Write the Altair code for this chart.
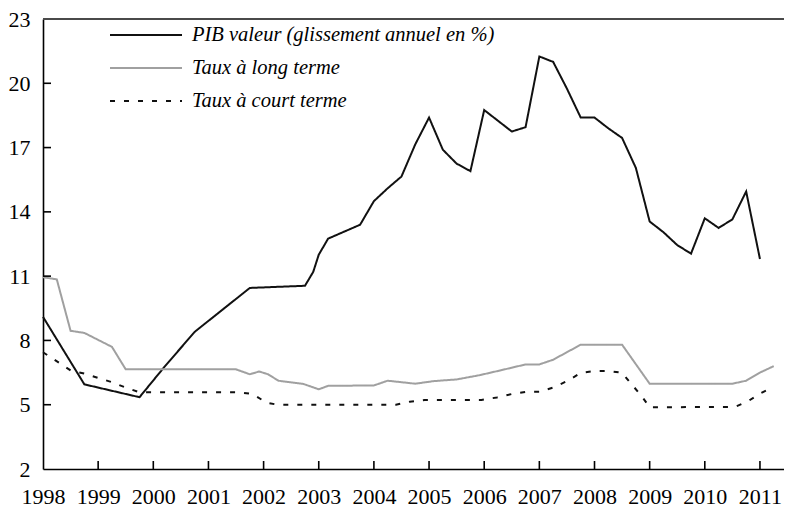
import altair as alt
import pandas as pd

# ---------------- data ----------------
YEARS = list(range(1998, 2012))
Y_TICKS = [2, 5, 8, 11, 14, 17, 20, 23]
SERIES = ["PIB valeur (glissement annuel en %)", "Taux à long terme", "Taux à court terme"]

pib_t = [1998.0, 1998.75, 1999.75, 2000.18, 2000.75, 2001.75, 2002.75, 2002.9, 2003.0,
         2003.17, 2003.75, 2004.0, 2004.25, 2004.5, 2004.75, 2005.0, 2005.25, 2005.5,
         2005.75, 2006.0, 2006.25, 2006.5, 2006.75, 2007.0, 2007.25, 2007.5, 2007.75,
         2008.0, 2008.25, 2008.5, 2008.75, 2009.0, 2009.25, 2009.5, 2009.75, 2010.0,
         2010.25, 2010.5, 2010.75, 2011.0]
pib_v = [9.1, 5.95, 5.35, 6.7, 8.4, 10.45, 10.55, 11.2, 12.0,
         12.75, 13.4, 14.5, 15.1, 15.65, 17.15, 18.4, 16.9, 16.25,
         15.9, 18.75, 18.25, 17.75, 17.95, 21.25, 21.0, 19.75, 18.4,
         18.4, 17.9, 17.45, 16.05, 13.55, 13.05, 12.45, 12.05, 13.7,
         13.25, 13.65, 14.95, 11.8]

long_t = [1998.0, 1998.25, 1998.5, 1998.75, 1999.25, 1999.5, 2001.5, 2001.75, 2001.92,
          2002.08, 2002.27, 2002.72, 2003.0, 2003.17, 2004.0, 2004.25, 2004.75, 2005.08,
          2005.5, 2005.92, 2006.29, 2006.75, 2007.0, 2007.25, 2007.5, 2007.75, 2008.5,
          2009.0, 2010.5, 2010.75, 2011.0, 2011.25]
long_v = [10.95, 10.85, 8.45, 8.35, 7.7, 6.65, 6.65, 6.42, 6.55,
          6.42, 6.12, 5.97, 5.72, 5.88, 5.9, 6.12, 5.98, 6.1,
          6.18, 6.38, 6.6, 6.88, 6.88, 7.1, 7.45, 7.8, 7.8,
          5.98, 5.98, 6.12, 6.5, 6.8]

short_t = [1998.0, 1998.5, 1998.75, 1999.25, 1999.5, 1999.75, 2001.55, 2001.8, 2002.05,
           2002.25, 2004.4, 2004.65, 2004.92, 2005.95, 2006.23, 2006.5, 2006.75, 2007.0,
           2007.25, 2007.5, 2007.75, 2008.0, 2008.25, 2008.5, 2008.67, 2008.85, 2009.0,
           2010.55, 2010.8, 2011.0, 2011.25]
short_v = [7.45, 6.6, 6.45, 6.05, 5.8, 5.58, 5.58, 5.5, 5.1,
           5.0, 5.0, 5.14, 5.22, 5.22, 5.34, 5.5, 5.6, 5.6,
           5.8, 6.1, 6.48, 6.57, 6.57, 6.49, 5.96, 5.42, 4.88,
           4.9, 5.19, 5.52, 5.83]

rows = []
for name, ts, vs in zip(SERIES, [pib_t, long_t, short_t], [pib_v, long_v, short_v]):
    for t, v in zip(ts, vs):
        rows.append({"series": name, "t": t, "v": v})
df = pd.DataFrame(rows)

legend_df = pd.DataFrame({"series": SERIES, "row": [0, 1, 2]})
xtick_df = pd.DataFrame({"year": YEARS[1:]})
ytick_df = pd.DataFrame({"val": Y_TICKS[1:-1]})
top_df = pd.DataFrame({"val": [Y_TICKS[-1]]})

# ---------------- style ----------------
W, H = 741, 450
FONT = "Liberation Serif"
x_scale = alt.Scale(domain=[1998, 2011.436], nice=False, zero=False)
y_scale = alt.Scale(domain=[2, 23], nice=False, zero=False)
color_scale = alt.Scale(domain=SERIES, range=["#111111", "#a0a0a0", "#111111"])
dash_scale = alt.Scale(domain=SERIES, range=[[1, 0], [1, 0], [5, 9]])
width_scale = alt.Scale(domain=SERIES, range=[2, 2, 3.4])

color_enc = alt.Color("series:N", scale=color_scale, legend=None)
dash_enc = alt.StrokeDash("series:N", scale=dash_scale, legend=None)
width_enc = alt.StrokeWidth("series:N", scale=width_scale, legend=None)

x_axis = alt.Axis(values=YEARS, format="d", title=None, ticks=False, grid=False,
                  labelPadding=17, domainColor="black", domainWidth=1.6,
                  labelFont=FONT, labelFontSize=22, labelColor="black",
                  labelOverlap=False, labelFlush=False)
y_axis = alt.Axis(values=Y_TICKS, title=None, ticks=False, grid=False,
                  labelPadding=13, domainColor="black", domainWidth=1.6,
                  labelFont=FONT, labelFontSize=22, labelColor="black",
                  labelOverlap=False, labelFlush=False)

lines = alt.Chart(df).mark_line().encode(
    x=alt.X("t:Q", scale=x_scale, axis=x_axis),
    y=alt.Y("v:Q", scale=y_scale, axis=y_axis),
    color=color_enc,
    strokeDash=dash_enc,
    strokeWidth=width_enc,
)

x_ticks = alt.Chart(xtick_df).mark_rule(color="black", strokeWidth=1.6).encode(
    x=alt.X("year:Q", scale=x_scale, axis=x_axis),
    y=alt.value(H),
    y2=alt.value(H - 8),
)

y_ticks = alt.Chart(ytick_df).mark_rule(color="black", strokeWidth=1.6).encode(
    y=alt.Y("val:Q", scale=y_scale, axis=None),
    x=alt.value(0),
    x2=alt.value(8),
)

top_line = alt.Chart(top_df).mark_rule(color="#4a4a4a", strokeWidth=2).encode(
    y=alt.Y("val:Q", scale=y_scale, axis=None),
    x=alt.value(0),
    x2=alt.value(W),
)

legend_y = alt.Y("row:Q", scale=alt.Scale(domain=[0, 2], range=[16, 82]), axis=None)
legend_lines = alt.Chart(legend_df).mark_rule().encode(
    x=alt.value(67),
    x2=alt.value(139),
    y=legend_y,
    color=color_enc,
    strokeDash=dash_enc,
    strokeWidth=width_enc,
)
legend_text = alt.Chart(legend_df).mark_text(
    align="left", baseline="middle", font=FONT, fontStyle="italic", fontSize=20.5, color="black"
).encode(
    x=alt.value(149),
    y=legend_y,
    text="series:N",
)

chart = alt.layer(
    lines, x_ticks, y_ticks, top_line, legend_lines, legend_text
).resolve_scale(y="independent").properties(
    width=W,
    height=H,
    autosize=alt.AutoSizeParams(type="none"),
    padding={"left": 35, "top": 11, "right": 0, "bottom": 45},
).configure_view(stroke=None)

chart.save("out.html", embed_options={"renderer": "svg", "actions": False})
